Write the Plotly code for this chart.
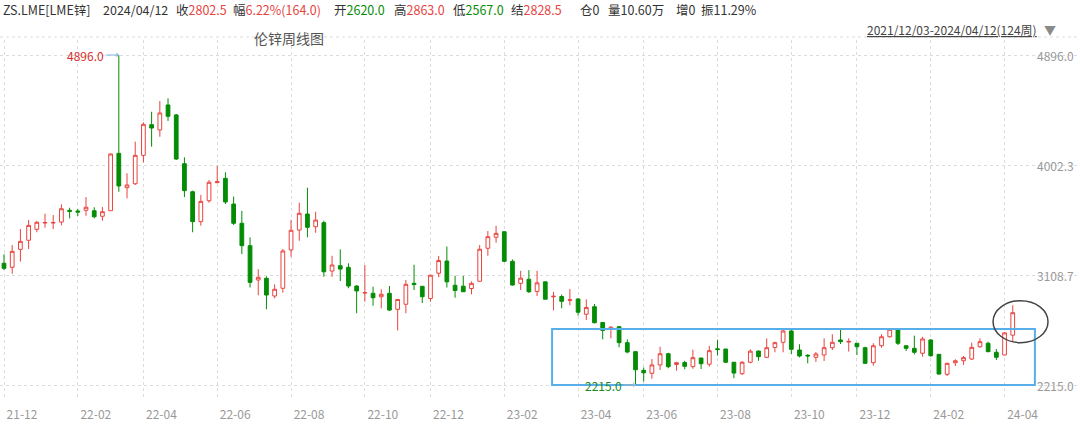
import pandas as pd
import plotly.graph_objects as go

# ---------------- data (weekly LME zinc, 2021/12/03 - 2024/04/12, 124 weeks) ----------------
week_start = "2021-12-03"
n_weeks = 124

opens = [3204, 3171, 3317, 3391, 3480, 3531, 3531, 3539, 3634, 3629,
         3634, 3631, 3586, 3631, 4097, 3818, 3850, 4081, 4330, 4287,
         4490, 4409, 4013, 3785, 3542, 3712, 3859, 3894, 3685, 3529,
         3347, 3068, 3082, 2938, 3001, 3312, 3474, 3604, 3501, 3534,
         3141, 3184, 3171, 3019, 2962, 2960, 2932, 2960, 2830, 2871,
         3041, 3017, 2918, 3123, 3222, 3025, 3018, 2999, 3058, 3326,
         3415, 3460, 3220, 3041, 3074, 2975, 3053, 2932, 2934, 2903,
         2914, 2790, 2851, 2723, 2668, 2689, 2559, 2486, 2334, 2310,
         2378, 2469, 2382, 2398, 2364, 2434, 2384, 2509, 2507, 2400,
         2307, 2400, 2491, 2440, 2520, 2562, 2654, 2499, 2457, 2440,
         2459, 2518, 2581, 2564, 2554, 2518, 2396, 2534, 2607, 2662,
         2534, 2513, 2473, 2581, 2464, 2302, 2396, 2412, 2426, 2526,
         2554, 2481, 2459, 2620.0]

highs = [3277, 3352, 3482, 3555, 3547, 3607, 3596, 3683, 3655, 3645,
         3742, 3659, 3661, 4097, 4896.0, 3935, 4192, 4349, 4435, 4522,
         4544, 4417, 4065, 3794, 3759, 3880, 3994, 3943, 3746, 3629,
         3415, 3156, 3097, 3033, 3320, 3555, 3696, 3818, 3623, 3550,
         3265, 3317, 3204, 3027, 3190, 3014, 2993, 3019, 2914, 3068,
         3192, 3019, 3109, 3263, 3340, 3103, 3101, 3056, 3352, 3466,
         3509, 3462, 3235, 3143, 3148, 3143, 3056, 2971, 2950, 2995,
         2918, 2911, 2873, 2724, 2694, 2690, 2586, 2488, 2357, 2426,
         2526, 2477, 2404, 2412, 2502, 2436, 2534, 2583, 2509, 2402,
         2410, 2505, 2493, 2594, 2567, 2668, 2668, 2546, 2465, 2483,
         2594, 2627, 2670, 2594, 2555, 2526, 2554, 2627, 2674, 2663,
         2536, 2616, 2607, 2586, 2467, 2396, 2424, 2451, 2559, 2594,
         2567, 2507, 2645, 2863.0]

lows = [3149, 3119, 3217, 3320, 3456, 3493, 3482, 3512, 3569, 3588,
        3590, 3569, 3550, 3629, 3785, 3732, 3840, 4024, 4151, 4232,
        4360, 4043, 3742, 3456, 3509, 3696, 3854, 3685, 3515, 3278,
        3007, 2944, 2830, 2919, 2965, 3257, 3387, 3415, 3452, 3095,
        3095, 3060, 3001, 2798, 2892, 2859, 2838, 2816, 2658, 2798,
        2987, 2881, 2892, 3090, 3007, 2924, 2971, 2952, 3056, 3265,
        3371, 3214, 3023, 2987, 2962, 2938, 2910, 2822, 2838, 2863,
        2780, 2743, 2716, 2586, 2594, 2521, 2473, 2215.0, 2242, 2266,
        2337, 2351, 2331, 2343, 2347, 2345, 2364, 2455, 2394, 2270,
        2296, 2391, 2412, 2434, 2481, 2481, 2467, 2440, 2391, 2402,
        2410, 2499, 2548, 2486, 2459, 2390, 2372, 2518, 2601, 2540,
        2491, 2464, 2445, 2445, 2300, 2288, 2369, 2378, 2418, 2518,
        2481, 2418, 2457, 2567.0]

closes = [3163, 3301, 3382, 3512, 3537, 3535, 3535, 3647, 3626, 3620,
          3659, 3582, 3623, 4092, 3832, 3840, 4081, 4333, 4303, 4425,
          4398, 4051, 3794, 3542, 3707, 3862, 3867, 3702, 3529, 3347,
          3049, 3090, 2946, 2993, 3304, 3472, 3610, 3496, 3555, 3135,
          3190, 3157, 3019, 2979, 2966, 2924, 2952, 2824, 2910, 3033,
          3031, 2932, 3107, 3226, 3053, 2983, 2973, 3041, 3318, 3420,
          3447, 3220, 3027, 3083, 2973, 3045, 2912, 2936, 2895, 2907,
          2806, 2845, 2721, 2658, 2684, 2559, 2483, 2339, 2314, 2378,
          2469, 2364, 2396, 2367, 2437, 2388, 2494, 2503, 2400, 2312,
          2400, 2490, 2445, 2518, 2559, 2654, 2505, 2451, 2451, 2467,
          2518, 2562, 2567, 2569, 2526, 2391, 2534, 2607, 2668, 2554,
          2513, 2481, 2589, 2453, 2304, 2391, 2412, 2437, 2521, 2567,
          2486, 2440, 2638.5, 2802.5]

y_ticks = [4896.0, 4002.3, 3108.7, 2215.0]
max_idx, min_idx = 14, 77

header_items = [  # (label, value, value colour key)
    ("ZS.LME[LME锌]", "", None),
    ("2024/04/12", "", None),
    ("收", "2802.5", "up"),
    ("幅", "6.22%(164.0)", "up"),
    ("开", "2620.0", "down"),
    ("高", "2863.0", "up"),
    ("低", "2567.0", "down"),
    ("结", "2828.5", "up"),
    ("仓", "0", None),
    ("量", "10.60万", None),
    ("增", "0", None),
    ("振", "11.29%", None),
]
header_x = [1, 101, 174, 231, 332, 392, 451, 509, 578, 606, 674, 699]

title_text = "伦锌周线图"
range_text = "2021/12/03-2024/04/12(124周)"

# ---------------- styling ----------------
RED = "#e8443f"
GREEN = "#058c05"
GRID = "#dcdcdc"
FONT = "Noto Sans CJK SC, Noto Sans, sans-serif"
W, H = 1080, 426
M_T, M_B = 40, 26
plot_h = H - M_T - M_B


def px_x(px):
    return px / W


def px_y(py):
    return (H - M_B - py) / plot_h


dates = pd.date_range(week_start, periods=n_weeks, freq="7D")
week = pd.Timedelta(days=7)
tick_dates = [d for i, d in enumerate(dates)
              if d.month % 2 == 0 and (i == 0 or d.month != dates[i - 1].month)]

fig = go.Figure(go.Candlestick(
    x=dates, open=opens, high=highs, low=lows, close=closes,
    increasing=dict(line=dict(color=RED, width=1), fillcolor="white"),
    decreasing=dict(line=dict(color=GREEN, width=1), fillcolor=GREEN),
    whiskerwidth=0, hoverinfo="x+y",
))

annotations = []
colors = {"up": RED, "down": GREEN, None: "#333333"}
for (lab, val, ck), x in zip(header_items, header_x):
    txt = lab + (f"<span style='color:{colors[ck]}'>{val}</span>" if val else "")
    annotations.append(dict(xref="paper", yref="paper", x=px_x(x), y=px_y(9),
                            xanchor="left", yanchor="middle", text=txt, showarrow=False,
                            font=dict(size=12.5, color="#333333", family=FONT)))

# y tick labels drawn at the right edge
for v in y_ticks:
    annotations.append(dict(xref="paper", yref="y", x=px_x(1076), y=v, text=f"{v:.1f}",
                            showarrow=False, xanchor="right", yanchor="middle",
                            font=dict(size=12, color="#999999", family=FONT)))

annotations += [
    dict(xref="paper", yref="paper", x=px_x(289), y=px_y(38), text=title_text,
         showarrow=False, xanchor="center", yanchor="middle",
         font=dict(size=14, color="#555555", family=FONT)),
    dict(xref="paper", yref="paper", x=px_x(1039), y=px_y(29), text=f"<u>{range_text}</u>",
         showarrow=False, xanchor="right", yanchor="middle",
         font=dict(size=12, color="#444444", family=FONT)),
    dict(xref="paper", yref="paper", x=px_x(1050), y=px_y(29), text="▼",
         showarrow=False, xanchor="center", yanchor="middle",
         font=dict(size=12, color="#8a8a8a", family=FONT)),
    dict(x=dates[max_idx], y=highs[max_idx], text=f"{highs[max_idx]:.1f}",
         showarrow=True, ax=-33, ay=0, arrowhead=1, arrowsize=0.8, arrowwidth=1,
         arrowcolor="#7fb6e2", font=dict(size=12, color="#d8302c", family=FONT)),
    dict(x=dates[min_idx], y=lows[min_idx], text=f"{lows[min_idx]:.1f}",
         showarrow=True, ax=-32, ay=0, arrowhead=1, arrowsize=0.8, arrowwidth=1,
         arrowcolor="#9ab8cc", font=dict(size=12, color="#1d8a1d", family=FONT)),
]

shapes = [
    dict(type="line", xref="paper", yref="paper", x0=0, x1=1, y0=px_y(37), y1=px_y(37),
         line=dict(color=GRID, width=1, dash="dot")),
    dict(type="rect", xref="x", yref="y",
         x0=dates[0] + 66.83 * week, x1=dates[0] + 125.7 * week, y0=2215.0, y1=2670,
         line=dict(color="#58aee8", width=2), fillcolor="rgba(0,0,0,0)"),
    dict(type="circle", xref="x", yref="y",
         x0=dates[0] + 120.6 * week, x1=dates[0] + 127.3 * week, y0=2559, y1=2900,
         line=dict(color="#444444", width=1.5), fillcolor="rgba(0,0,0,0)"),
]

fig.update_layout(
    width=W, height=H, autosize=False,
    margin=dict(l=0, r=0, t=M_T, b=M_B, pad=0),
    paper_bgcolor="white", plot_bgcolor="white",
    showlegend=False, boxgap=0.35,
    font=dict(family=FONT, size=12, color="#999999"),
    annotations=annotations, shapes=shapes,
    xaxis=dict(
        type="date", range=[dates[0] - 0.488 * week, dates[0] + 131.2 * week],
        tickvals=tick_dates, tickformat="%y-%m", ticks="", ticklabelshift=18,
        ticklabelstandoff=6,
        showgrid=True, gridcolor=GRID, griddash="dot", gridwidth=1,
        tickfont=dict(size=12, color="#999999"), rangeslider=dict(visible=False),
        showline=False, zeroline=False,
    ),
    yaxis=dict(
        side="right", range=[2093.2, 5017.9], tickvals=y_ticks, showticklabels=False,
        showgrid=True, gridcolor=GRID, griddash="dot", gridwidth=1,
        zeroline=False, ticks="",
    ),
)

fig.write_html("out.html", config={"displayModeBar": False},
               post_script="document.body.style.margin='0';document.body.style.overflow='hidden';")
